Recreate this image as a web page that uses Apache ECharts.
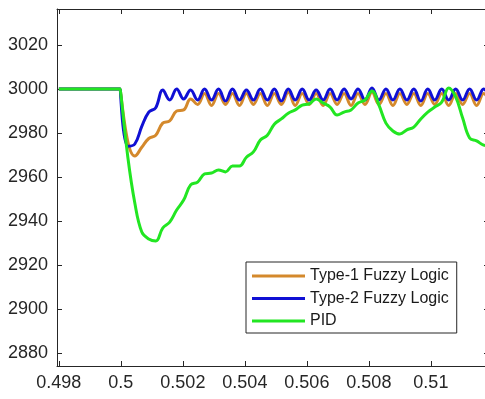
<!DOCTYPE html>
<html>
<head>
<meta charset="utf-8">
<script src="https://cdn.jsdelivr.net/npm/echarts@6/dist/echarts.min.js"></script>
<style>
  html, body { margin: 0; padding: 0; background: #fff; overflow: hidden; }
  /* the plot box runs a few pixels past the visible right edge */
  #chart { width: 492px; height: 399px; }
</style>
</head>
<body>
<div id="chart"></div>
<script>
// Sample times (s): flat pre-step, then half-ripple spacing after the load step at 0.5 s
const time = [
  0.498, 0.4985, 0.499, 0.4995, 0.49998,
  0.5, 0.500225, 0.50045, 0.500675, 0.5009, 0.501125, 0.50135, 0.501575, 0.5018, 0.502025,
  0.50225, 0.502475, 0.5027, 0.502925, 0.50315, 0.503375, 0.5036, 0.503825, 0.50405, 0.504275,
  0.5045, 0.504725, 0.50495, 0.505175, 0.5054, 0.505625, 0.50585, 0.506075, 0.5063, 0.506525,
  0.50675, 0.506975, 0.5072, 0.507425, 0.50765, 0.507875, 0.5081, 0.508325, 0.50855, 0.508775,
  0.509, 0.509225, 0.50945, 0.509675, 0.5099, 0.510125, 0.51035, 0.510575, 0.5108, 0.511025,
  0.51125, 0.511475, 0.5117, 0.511925
];

// Speed responses (rpm)
const type1Fuzzy = [
  3000, 3000, 3000, 3000, 3000,
  3000, 2976, 2969.5, 2973.5, 2977.5, 2979, 2984.5, 2985.5, 2990, 2990.5,
  2995.5, 2993, 2998, 2992.5, 2998, 2993, 2998, 2992.5, 2998, 2993,
  2998, 2992.5, 2998, 2993, 2998.5, 2992.5, 2998, 2993, 2998, 2992.5,
  2998, 2993, 2998, 2992.5, 2998, 2993, 2998.5, 2993, 2998, 2992.5,
  2998, 2993, 2998, 2992.5, 2998, 2993, 2998, 2992.5, 2998, 2993,
  2998, 2992.5, 2998, 2993
];

const type2Fuzzy = [
  3000, 3000, 3000, 3000, 3000,
  3000, 2974, 2975, 2983, 2989.5, 2991.5, 2999.5, 2995, 3000, 2995.5,
  2999.5, 2995, 3000, 2995, 3000, 2994.5, 3000, 2995, 2999.5, 2995,
  3000, 2995, 3000, 2994.5, 3000, 2995, 3000, 2995, 2999.5, 2995,
  3000, 2995, 3000, 2995.5, 3000, 2995, 3000.5, 2995, 3000, 2995,
  3000, 2995, 3000, 2994.5, 3000, 2995, 3000, 2995, 3000, 2995,
  3000, 2995, 3000, 2995
];

const pid = [
  3000, 3000, 3000, 3000, 3000,
  3000, 2969, 2948.2, 2935, 2931.8, 2930.9, 2936.8, 2939.5, 2945, 2949.5,
  2956.4, 2957.7, 2961.4, 2961.8, 2963.2, 2962.3, 2965, 2965, 2969, 2971.4,
  2976.8, 2979, 2984, 2986.4, 2989, 2990.5, 2992.7, 2993.2, 2995.5, 2993.6,
  2991.8, 2988.2, 2989.5, 2990.5, 2993.6, 2995, 2999.1, 2992.7, 2984.5, 2980.9,
  2979.5, 2981.4, 2982.7, 2986.4, 2989.5, 2991.8, 2994, 3000.5, 2996.4, 2986.8,
  2977.7, 2976.4, 2974.5, 2974
];

const seriesNames = ['Type-1 Fuzzy Logic', 'Type-2 Fuzzy Logic', 'PID'];
const xTicks = [0.498, 0.5, 0.502, 0.504, 0.506, 0.508, 0.51, 0.512];
const yTicks = [2880, 2900, 2920, 2940, 2960, 2980, 3000, 3020];

const axisColor = '#262626';
const font = '"Liberation Sans", Arial, sans-serif';

const pairs = (vals) => time.map((t, i) => [t, vals[i]]);

const chart = echarts.init(document.getElementById('chart'), null, { renderer: 'canvas' });

const xBase = {
  type: 'value',
  min: 0.49794,
  max: 0.511875,
  splitLine: { show: false },
  axisLine: { show: true, onZero: false, lineStyle: { color: axisColor, width: 1 } }
};
const yBase = {
  type: 'value',
  min: 2874.09,
  max: 3036.36,
  splitLine: { show: false },
  axisLine: { show: true, onZero: false, lineStyle: { color: axisColor, width: 1 } }
};

chart.setOption({
  animation: false,
  backgroundColor: '#ffffff',
  grid: { left: 57, width: 432, top: 9, height: 357, containLabel: false },
  xAxis: [
    Object.assign({}, xBase, {
      position: 'bottom',
      axisTick: { show: true, inside: true, length: 5, customValues: xTicks, lineStyle: { color: axisColor } },
      axisLabel: {
        show: true, customValues: xTicks, margin: 8,
        color: axisColor, fontSize: 18, fontFamily: font,
        formatter: (v) => String(+v.toFixed(3))
      }
    }),
    Object.assign({}, xBase, {
      position: 'top',
      axisTick: { show: true, inside: true, length: 5, customValues: xTicks, lineStyle: { color: axisColor } },
      axisLabel: { show: false }
    })
  ],
  yAxis: [
    Object.assign({}, yBase, {
      position: 'left',
      axisTick: { show: true, inside: true, length: 5, customValues: yTicks, lineStyle: { color: axisColor } },
      axisLabel: {
        show: true, customValues: yTicks, margin: 9,
        color: axisColor, fontSize: 18, fontFamily: font,
        formatter: (v) => String(Math.round(v))
      }
    }),
    Object.assign({}, yBase, {
      position: 'right',
      axisTick: { show: true, inside: true, length: 5, customValues: yTicks, lineStyle: { color: axisColor } },
      axisLabel: { show: false }
    })
  ],
  legend: {
    orient: 'vertical',
    left: 246,
    top: 262,
    padding: [6, 8, 4, 6],
    itemGap: 6.5,
    itemWidth: 53,
    itemHeight: 3,
    icon: 'rect',
    backgroundColor: '#ffffff',
    borderColor: axisColor,
    borderWidth: 1,
    borderRadius: 0,
    textStyle: { color: '#1a1a1a', fontSize: 16, fontFamily: font, lineHeight: 16, padding: [0, 0, 0, 0] },
    data: seriesNames
  },
  series: [
    {
      name: seriesNames[0], type: 'line', data: pairs(type1Fuzzy),
      smooth: 0.4, showSymbol: false, symbol: 'none', clip: true,
      lineStyle: { color: '#D4892C', width: 3 }, itemStyle: { color: '#D4892C' }
    },
    {
      name: seriesNames[1], type: 'line', data: pairs(type2Fuzzy),
      smooth: 0.4, showSymbol: false, symbol: 'none', clip: true,
      lineStyle: { color: '#1010D4', width: 3 }, itemStyle: { color: '#1010D4' }
    },
    {
      name: seriesNames[2], type: 'line', data: pairs(pid),
      smooth: 0.4, showSymbol: false, symbol: 'none', clip: true,
      lineStyle: { color: '#22E622', width: 3 }, itemStyle: { color: '#22E622' }
    }
  ]
});
</script>
</body>
</html>
